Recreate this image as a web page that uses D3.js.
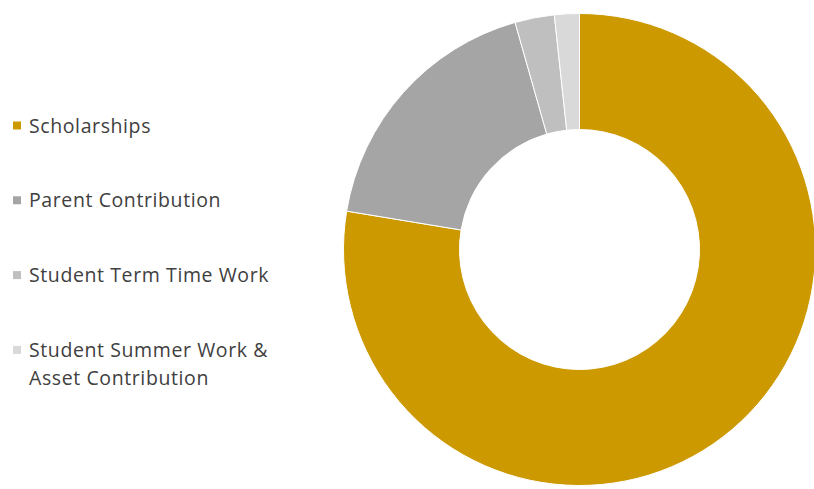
<!DOCTYPE html>
<html>
<head>
<meta charset="utf-8">
<script src="https://cdn.jsdelivr.net/npm/d3@7"></script>
<style>
  body { margin: 0; background: #fff; }
  svg { display: block; }
</style>
</head>
<body>
<svg></svg>
<script>
// Data
const categories = ["Scholarships", "Parent Contribution", "Student Term Time Work", "Student Summer Work & Asset Contribution"];
const values = [77.6, 18.0, 2.7, 1.7];
const legendLines = [["Scholarships"], ["Parent Contribution"], ["Student Term Time Work"], ["Student Summer Work &", "Asset Contribution"]];
const colors = ["#CC9900", "#A5A5A5", "#BFBFBF", "#D9D9D9"];

const width = 814, height = 489;
const cx = 579.5, cy = 249.5,
      outerR = 236, innerR = 120;

const svg = d3.select("svg")
  .attr("width", width)
  .attr("height", height);

const data = categories.map((name, i) => ({ name, value: values[i] }));
const color = d3.scaleOrdinal().domain(categories).range(colors);

const pie = d3.pie().value(d => d.value).sort(null);
const arc = d3.arc().innerRadius(innerR).outerRadius(outerR);

const g = svg.append("g").attr("transform", `translate(${cx},${cy})`);
g.selectAll("path")
  .data(pie(data))
  .enter().append("path")
    .attr("d", arc)
    .attr("fill", d => color(d.data.name))
    .attr("stroke", "#fff")
    .attr("stroke-width", 1);

// Legend
const legendTop = 132.5, legendStep = 74.8;
const legend = svg.append("g").attr("class", "legend");
const items = legend.selectAll("g")
  .data(data)
  .enter().append("g")
    .attr("transform", (d, i) => `translate(13,${legendTop + i * legendStep})`);

items.append("rect")
  .attr("x", 0)
  .attr("y", -11)
  .attr("width", 8)
  .attr("height", 8)
  .attr("fill", d => color(d.name));

items.append("text")
  .attr("x", 16)
  .attr("y", 0)
  .style("font", "19.5px 'Open Sans', sans-serif")
  .style("letter-spacing", "0.6px")
  .style("fill", "#404040")
  .selectAll("tspan")
  .data((d, i) => legendLines[i])
  .enter().append("tspan")
    .attr("x", 16)
    .attr("dy", (d, j) => j === 0 ? 0 : 28)
    .text(d => d);
</script>
</body>
</html>
